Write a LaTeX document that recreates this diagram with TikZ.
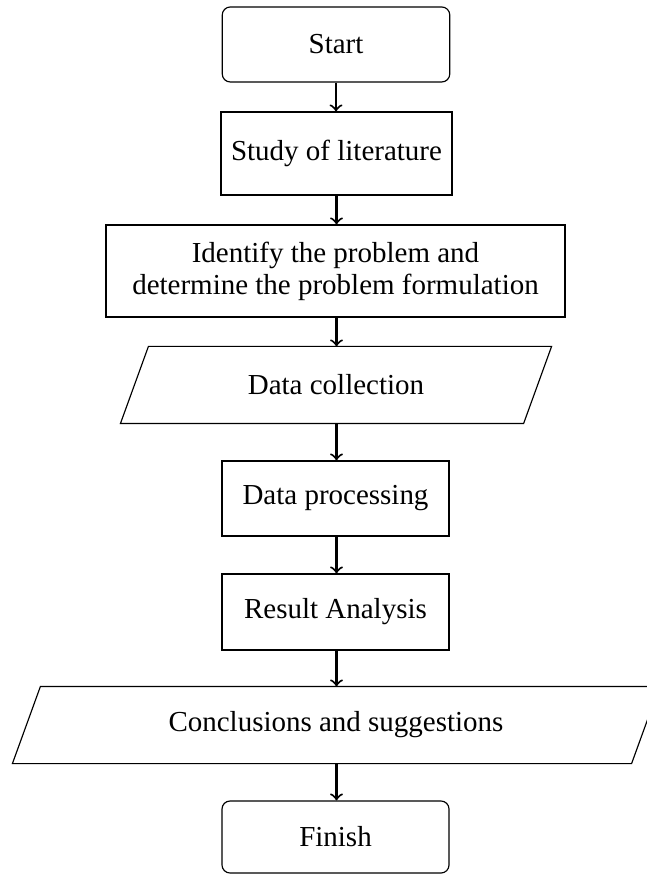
\documentclass[tikz,border=0pt]{standalone}
\usepackage{fontspec}
\setmainfont{Liberation Serif}
\usetikzlibrary{calc}
\newcommand{\pxu}[1]{#1*0.345pt}
\tikzset{
  base/.style={inner sep=0pt, align=center, font=\fontsize{10pt}{11pt}\selectfont},
  roundbox/.style={base, draw, rounded corners=\pxu{8}, line width=0.4pt},
  plainbox/.style={base, draw, line width=0.4pt},
  parabox/.style={base},
  flow/.style={->, line width=0.7pt},
}
\begin{document}
\begin{tikzpicture}[x=0.345pt, y=-0.345pt]
\useasboundingbox (0,0) rectangle (646,874);
\node[roundbox, minimum width=\pxu{227.5}, minimum height=\pxu{75}] (start) at (336,44.5) {Start};
\node[plainbox, minimum width=\pxu{231}, minimum height=\pxu{83}] (study) at (336.5,153.5) {Study of literature};
\node[plainbox, minimum width=\pxu{459}, minimum height=\pxu{92}] (ident) at (335.5,271) {Identify the problem and\\determine the problem formulation};
\node[parabox, minimum width=\pxu{402}, minimum height=\pxu{76}] (dc) at (336,385) {Data collection};
\draw[line width=0.4pt] ($(dc.south west)+(-14,0)$) -- ($(dc.south east)+(-14,0)$) -- ($(dc.north east)+(14,0)$) -- ($(dc.north west)+(14,0)$) -- cycle;
\node[plainbox, minimum width=\pxu{227}, minimum height=\pxu{75}] (proc) at (335.5,498.5) {Data processing};
\node[plainbox, minimum width=\pxu{227}, minimum height=\pxu{76}] (res) at (335.5,612) {Result Analysis};
\node[parabox, minimum width=\pxu{618}, minimum height=\pxu{76}] (conc) at (336,725) {Conclusions and suggestions};
\draw[line width=0.4pt] ($(conc.south west)+(-14,0)$) -- ($(conc.south east)+(-14,0)$) -- ($(conc.north east)+(14,0)$) -- ($(conc.north west)+(14,0)$) -- cycle;
\node[roundbox, minimum width=\pxu{227}, minimum height=\pxu{72}] (fin) at (335.5,837) {Finish};
\draw[flow] (start.south) -- (start.south |- study.north);
\draw[flow] (study.south) -- (study.south |- ident.north);
\draw[flow] (study.south |- ident.south) -- (study.south |- dc.north);
\draw[flow] (study.south |- dc.south) -- (study.south |- proc.north);
\draw[flow] (study.south |- proc.south) -- (study.south |- res.north);
\draw[flow] (study.south |- res.south) -- (study.south |- conc.north);
\draw[flow] (study.south |- conc.south) -- (study.south |- fin.north);
\end{tikzpicture}
\end{document}
